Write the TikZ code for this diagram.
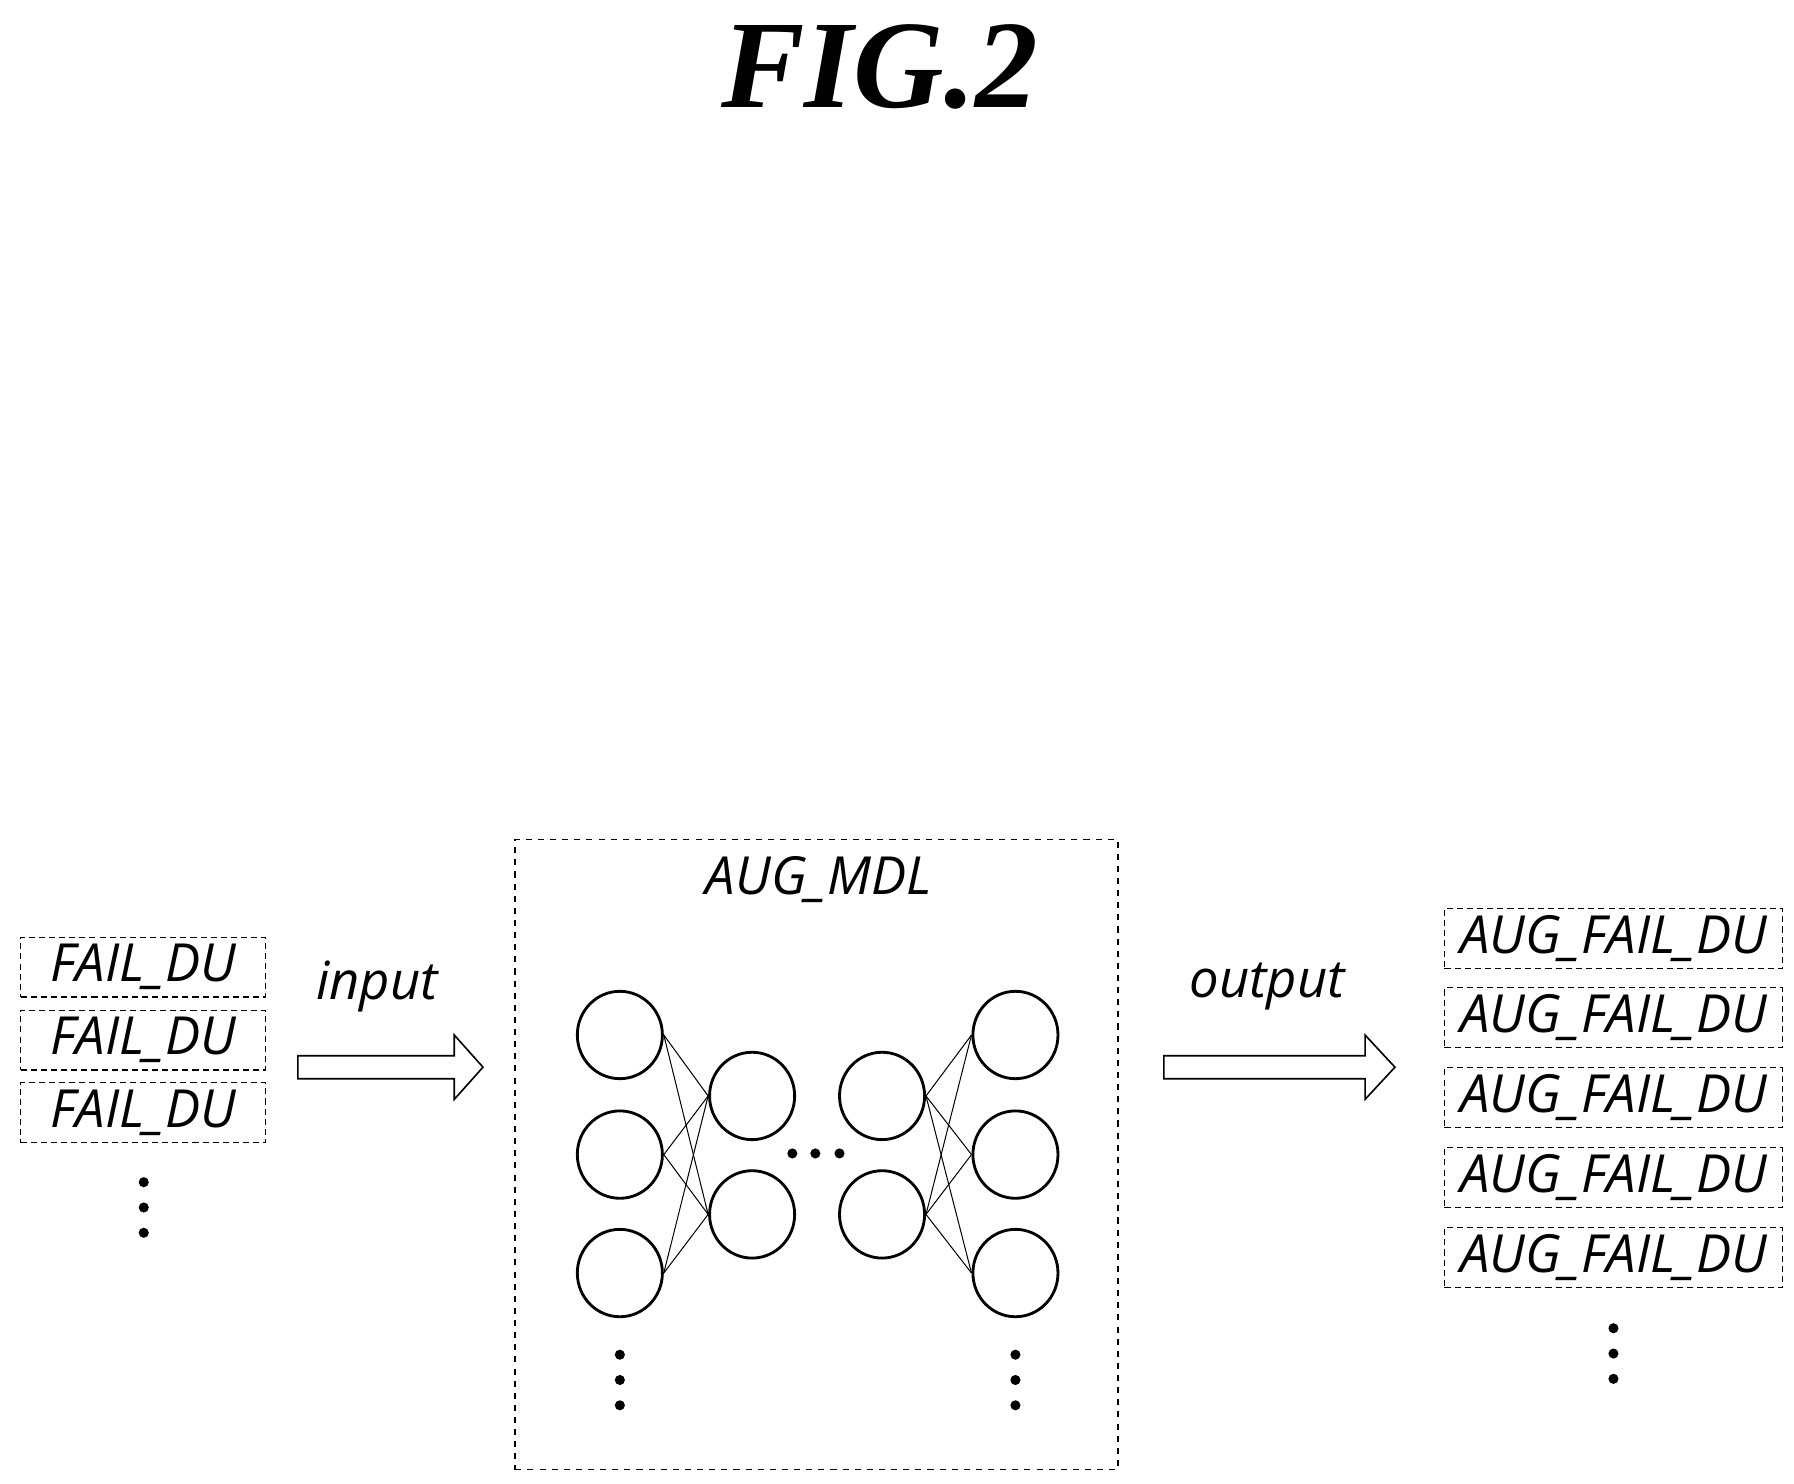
\documentclass[tikz,border=0pt]{standalone}
\usepackage{fontspec}
\setmainfont{Liberation Serif}
\newfontfamily\lab{Open Sans}
\begin{document}
\begin{tikzpicture}[x=0.02cm,y=-0.02cm,
  dbox/.style={draw,densely dashed,line width=0.6pt,minimum width=4.26cm,minimum height=1.04cm,inner sep=0pt,font=\lab\itshape\fontsize{26}{26}\selectfont},
  rbox/.style={dbox,minimum width=5.88cm},
  neu/.style={draw,line width=1.4pt,ellipse,minimum width=1.48cm,minimum height=1.52cm,inner sep=0pt},
  lbl/.style={font=\lab\itshape\fontsize{26}{26}\selectfont},
  dot/.style={circle,fill,inner sep=0pt,minimum size=5pt},
  conn/.style={line width=0.5pt}]
\usetikzlibrary{shapes.geometric}
\useasboundingbox (0,0) rectangle (1560,1290);
\node (title) at (765,58) {\fontsize{62}{62}\selectfont\bfseries\itshape FIG.2};
% left boxes
\node[dbox] (f1) at (124.5,841) {FAIL\_DU};
\node[dbox] (f2) at (124.5,904.5) {FAIL\_DU};
\node[dbox] (f3) at (124.5,967.5) {FAIL\_DU};
\foreach \y [count=\i] in {1028,1050,1072} \node[dot] (fd\i) at (125,\y) {};
% input arrow
\node[lbl] (in) at (328,858) {input};
\coordinate (ia) at (259,918);
\draw[line width=0.8pt] (259,918) -- (395,918) -- (395,900) -- (420,928) -- (395,956) -- (395,938) -- (259,938) -- cycle;
% model box
\node[draw,dashed,line width=0.8pt,minimum width=10.48cm,minimum height=10.96cm,inner sep=0pt] (mdl) at (710,1004) {};
\node[lbl] (mdlt) at (712,765) {AUG\_MDL};
\foreach \y [count=\i] in {900,1004,1107} {
  \node[neu] (a\i) at (539,\y) {};
  \node[neu] (d\i) at (883,\y) {};}
\foreach \y [count=\i] in {953,1056} {
  \node[neu] (b\i) at (654,\y) {};
  \node[neu] (c\i) at (767,\y) {};}
\foreach \i in {1,2,3} \foreach \j in {1,2} {
  \draw[conn] (a\i.east) -- (b\j.west);
  \draw[conn] (c\j.east) -- (d\i.west);}
\foreach \x [count=\i] in {689,709,730} \node[dot] (md\i) at (\x,1003) {};
\foreach \y [count=\i] in {1178,1200,1222} {
  \node[dot] (ad\i) at (539,\y) {};
  \node[dot] (dd\i) at (883,\y) {};}
% output arrow
\node[lbl] (out) at (1102,858) {output};
\draw[line width=0.8pt] (1012,918) -- (1187,918) -- (1187,900) -- (1213,928) -- (1187,956) -- (1187,938) -- (1012,938) -- cycle;
% right boxes
\foreach \y [count=\i] in {816,885,954.5,1024,1093.5}
  \node[rbox] (r\i) at (1403,\y) {AUG\_FAIL\_DU};
\foreach \y [count=\i] in {1155,1177,1199} \node[dot] (rd\i) at (1403,\y) {};
\end{tikzpicture}
\end{document}
